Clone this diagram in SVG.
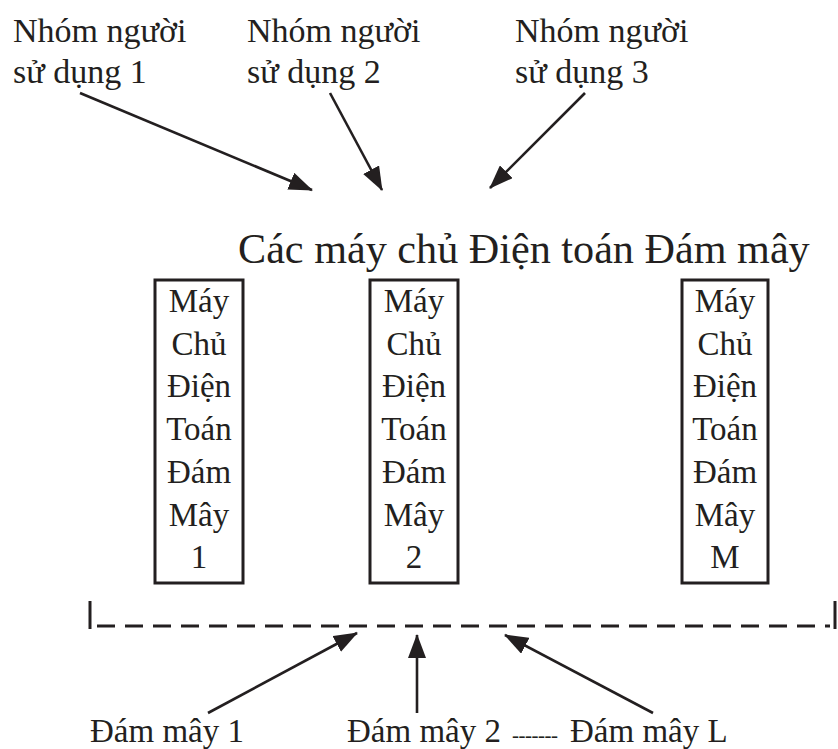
<svg xmlns="http://www.w3.org/2000/svg" width="838" height="749" viewBox="0 0 838 749">
<style>
text{font-family:"Liberation Serif","Times New Roman",serif;fill:#231f20}
.lbl{font-size:34px}
.title{font-size:42.2px}
.box{fill:none;stroke:#231f20;stroke-width:3}
.bt{font-size:33px;text-anchor:middle}
.bot{font-size:33px}
.arr{stroke:#231f20;stroke-width:2.6;fill:none;marker-end:url(#ah)}
</style>
<defs>
<marker id="ah" markerUnits="userSpaceOnUse" viewBox="0 0 24 18" markerWidth="24" markerHeight="18" refX="23" refY="9" orient="auto">
<path d="M0,0 L24,9 L0,18 Z" fill="#231f20"/>
</marker>
</defs>
<rect width="838" height="749" fill="#fff"/>
<g id="user1"><text class="lbl" x="13" y="42">Nhóm người</text><text class="lbl" x="13" y="83">sử dụng 1</text></g>
<g id="user2"><text class="lbl" x="247" y="42">Nhóm người</text><text class="lbl" x="247" y="83">sử dụng 2</text></g>
<g id="user3"><text class="lbl" x="515" y="42">Nhóm người</text><text class="lbl" x="515" y="83">sử dụng 3</text></g>
<g id="title"><text class="title" x="238" y="263">Các máy chủ Điện toán Đám mây</text></g>
<g id="server1"><rect class="box" x="155" y="280" width="88" height="303"/>
<text class="bt" x="199" y="312">Máy</text><text class="bt" x="199" y="354.7">Chủ</text><text class="bt" x="199" y="397.4">Điện</text><text class="bt" x="199" y="440">Toán</text><text class="bt" x="199" y="482.8">Đám</text><text class="bt" x="199" y="525.5">Mây</text><text class="bt" x="199" y="568">1</text></g>
<g id="server2"><rect class="box" x="370" y="280" width="88" height="303"/>
<text class="bt" x="414" y="312">Máy</text><text class="bt" x="414" y="354.7">Chủ</text><text class="bt" x="414" y="397.4">Điện</text><text class="bt" x="414" y="440">Toán</text><text class="bt" x="414" y="482.8">Đám</text><text class="bt" x="414" y="525.5">Mây</text><text class="bt" x="414" y="568">2</text></g>
<g id="serverM"><rect class="box" x="682" y="280" width="86" height="303"/>
<text class="bt" x="725" y="312">Máy</text><text class="bt" x="725" y="354.7">Chủ</text><text class="bt" x="725" y="397.4">Điện</text><text class="bt" x="725" y="440">Toán</text><text class="bt" x="725" y="482.8">Đám</text><text class="bt" x="725" y="525.5">Mây</text><text class="bt" x="725" y="568">M</text></g>
<g id="cloudbus">
<line x1="90" y1="601" x2="90" y2="629" stroke="#231f20" stroke-width="3"/>
<line x1="835" y1="601" x2="835" y2="629" stroke="#231f20" stroke-width="3"/>
<line x1="97" y1="626" x2="830" y2="626" stroke="#231f20" stroke-width="3" stroke-dasharray="18 10"/>
</g>
<g id="cloud1"><text class="bot" x="90" y="742">Đám mây 1</text></g>
<g id="cloud2"><text class="bot" x="347" y="742">Đám mây 2</text><text x="512" y="742" style="font-size:21px;letter-spacing:-0.5px">-------</text></g>
<g id="cloudL"><text class="bot" x="570" y="742">Đám mây L</text></g>
<g id="connectors">
<line class="arr" x1="80" y1="93" x2="312" y2="190"/>
<line class="arr" x1="330" y1="93" x2="382" y2="190"/>
<line class="arr" x1="585" y1="93" x2="490" y2="188"/>
<line class="arr" x1="208" y1="713" x2="357" y2="633"/>
<line class="arr" x1="417" y1="713" x2="417" y2="635"/>
<line class="arr" x1="653" y1="713" x2="505" y2="635"/>
</g>
</svg>
